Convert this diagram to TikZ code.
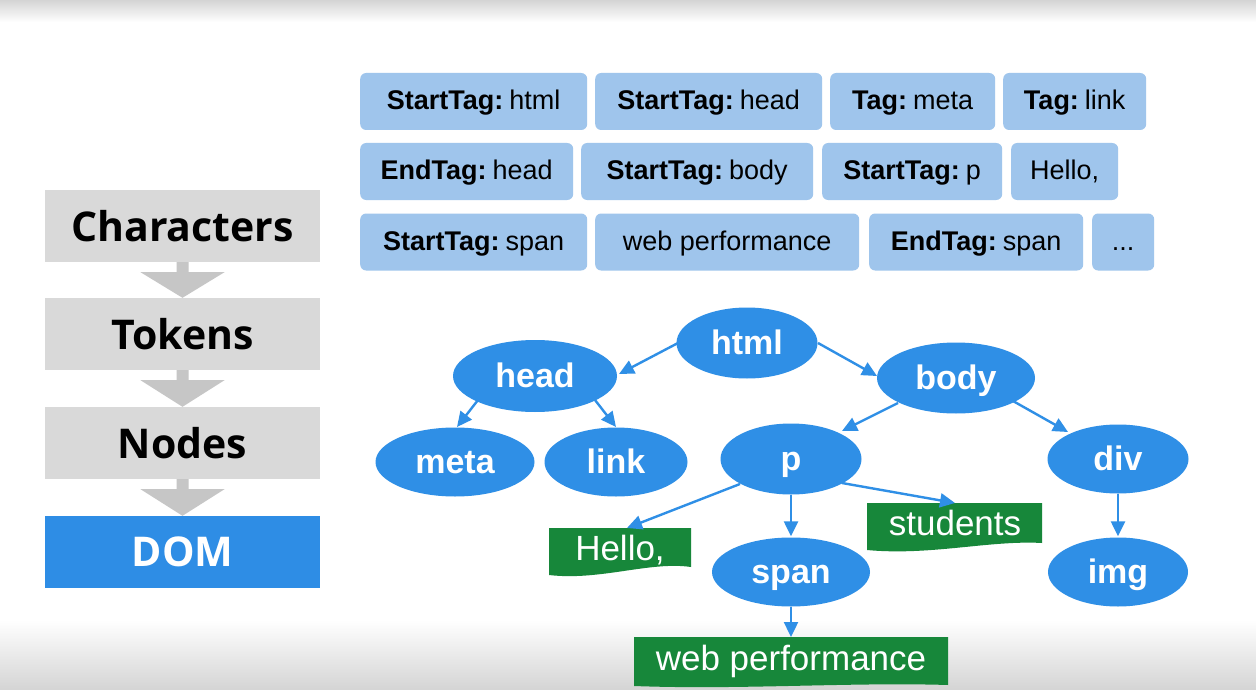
\documentclass[tikz,border=0pt]{standalone}
\usepackage{fontspec}
\setmainfont{Liberation Sans}
\newfontfamily\opensans{Open Sans}
\usetikzlibrary{shapes.geometric,arrows.meta,calc}
\definecolor{tokblue}{HTML}{9FC5EC}
\definecolor{nodeblue}{HTML}{2F8FE6}
\definecolor{greenbox}{HTML}{17873A}
\definecolor{graybox}{HTML}{D9D9D9}
\definecolor{grayarrow}{HTML}{C6C6C6}
\definecolor{dombblue}{HTML}{2E8DE5}
\definecolor{shadegray}{HTML}{D4D4D4}
\tikzset{
  stage/.style={fill=graybox, minimum width=275pt, minimum height=72pt, inner sep=0pt, font=\opensans\fontsize{41}{44}\selectfont\bfseries},
  tok/.style={fill=tokblue, rounded corners=6pt, minimum height=57pt, inner sep=0pt, anchor=west, text height=21pt, text depth=4.5pt, font=\fontsize{27}{30}\selectfont},
  dom/.style={ellipse, fill=nodeblue, inner sep=0pt, text=white, text height=27pt, text depth=5pt, font=\fontsize{34}{36}\selectfont\bfseries},
  txt/.style={inner sep=0pt, text=white, text height=27.5pt, text depth=5pt, font=\fontsize{35}{37}\selectfont},
  edge/.style={draw=nodeblue, line width=2.4pt, -{Triangle[length=15pt,width=14pt]}},
}
\begin{document}
\begin{tikzpicture}[x=1pt,y=-1pt]
\useasboundingbox (0,0) rectangle (1256,690);
\fill[white] (0,0) rectangle (1256,690);
\shade[top color=shadegray, bottom color=white] (0,0) rectangle (1256,22);
\shade[top color=white, bottom color=shadegray] (0,620) rectangle (1256,690);

% left pipeline
\node[stage] (chars) at (182.5,226) {Characters};
\node[stage] (tokens) at (182.5,334) {Tokens};
\node[stage] (nodes) at (182.5,443) {Nodes};
\node[stage, fill=dombblue, text=white] (domb) at (182.5,552) {DOM};
\foreach \a/\b in {chars/tokens, tokens/nodes, nodes/domb}{
  \fill[grayarrow] ($(\a.south)+(-6,0)$) -- ($(\a.south)+(6,0)$) -- ($(\a.south)+(6,10)$)
    -- ($(\a.south)+(42,10)$) -- (\b.north) -- ($(\a.south)+(-42,10)$) -- ($(\a.south)+(-6,10)$) -- cycle;
}

% token boxes
\newcommand{\tk}[1]{\textbf{#1:}\kern0.22em}
\node[tok, minimum width=227pt] (t1) at (360,101.5) {\tk{StartTag}html};
\node[tok, minimum width=227pt] (t2) at (595,101.5) {\tk{StartTag}head};
\node[tok, minimum width=165pt] (t3) at (830,101.5) {\tk{Tag}meta};
\node[tok, minimum width=143pt] (t4) at (1003,101.5) {\tk{Tag}link};
\node[tok, minimum width=213pt] (t5) at (360,171.5) {\tk{EndTag}head};
\node[tok, minimum width=232pt] (t6) at (581,171.5) {\tk{StartTag}body};
\node[tok, minimum width=180pt] (t7) at (822,171.5) {\tk{StartTag}p};
\node[tok, minimum width=107pt] (t8) at (1011,171.5) {Hello,};
\node[tok, minimum width=227pt] (t9) at (360,242) {\tk{StartTag}span};
\node[tok, minimum width=264pt] (t10) at (595,242) {web performance};
\node[tok, minimum width=214pt] (t11) at (869,242) {\tk{EndTag}span};
\node[tok, minimum width=62pt] (t12) at (1092,242) {...};

% DOM tree
\node[dom, minimum width=141pt, minimum height=71pt] (html) at (747,343) {html};
\node[dom, minimum width=164pt, minimum height=72pt] (head) at (535,376) {head};
\node[dom, minimum width=158pt, minimum height=71pt] (body) at (956,378) {body};
\node[dom, minimum width=159pt, minimum height=69pt] (meta) at (455,462) {meta};
\node[dom, minimum width=143pt, minimum height=69pt] (link) at (616,462) {link};
\node[dom, minimum width=141pt, minimum height=71pt] (p) at (791,459) {p};
\node[dom, minimum width=141pt, minimum height=69pt] (div) at (1118,459) {div};
\node[dom, minimum width=158pt, minimum height=69pt] (span) at (791,572) {span};
\node[dom, minimum width=140pt, minimum height=69pt] (img) at (1118,572) {img};

% green text boxes
\fill[greenbox] (549,528) -- (691,528) -- (691,567) .. controls (650,561) and (600,581) .. (549,575) -- cycle;
\node[txt] (hello) at (620,549) {Hello,};
\fill[greenbox] (867,503) -- (1042,503) -- (1042,543) .. controls (990,540) and (930,556) .. (867,550) -- cycle;
\node[txt] (students) at (955,524) {students};
\fill[greenbox] (634,637) -- (948,637) -- (948,685) .. controls (850,682) and (740,690) .. (634,686) -- cycle;
\node[txt] (webp) at (791,659) {web performance};

% connectors
\draw[edge] ($(html.center)+(-69,0)$) -- ($(head.center)+(84,-2)$);
\draw[edge] ($(html.center)+(71,0)$) -- ($(body.center)+(-79,-2)$);
\draw[edge] ($(head.center)+(-57,24)$) -- ($(meta.center)+(2,-35)$);
\draw[edge] ($(head.center)+(60,24)$) -- ($(link.center)+(0,-35)$);
\draw[edge] ($(body.center)+(-58,25)$) -- ($(p.center)+(51,-28)$);
\draw[edge] ($(body.center)+(57,23)$) -- ($(div.center)+(-50,-27)$);
\draw[edge] ($(p.center)+(-51,25)$) -- ($(hello.center)+(7,-21)$);
\draw[edge] (p.south) -- ($(span.north)+(0,-1)$);
\draw[edge] ($(p.center)+(51,24)$) -- ($(students.center)+(0,-21)$);
\draw[edge] (div.south) -- ($(img.north)+(0,-1)$);
\draw[edge] (span.south) -- ($(webp.center)+(0,-22)$);
\end{tikzpicture}
\end{document}
